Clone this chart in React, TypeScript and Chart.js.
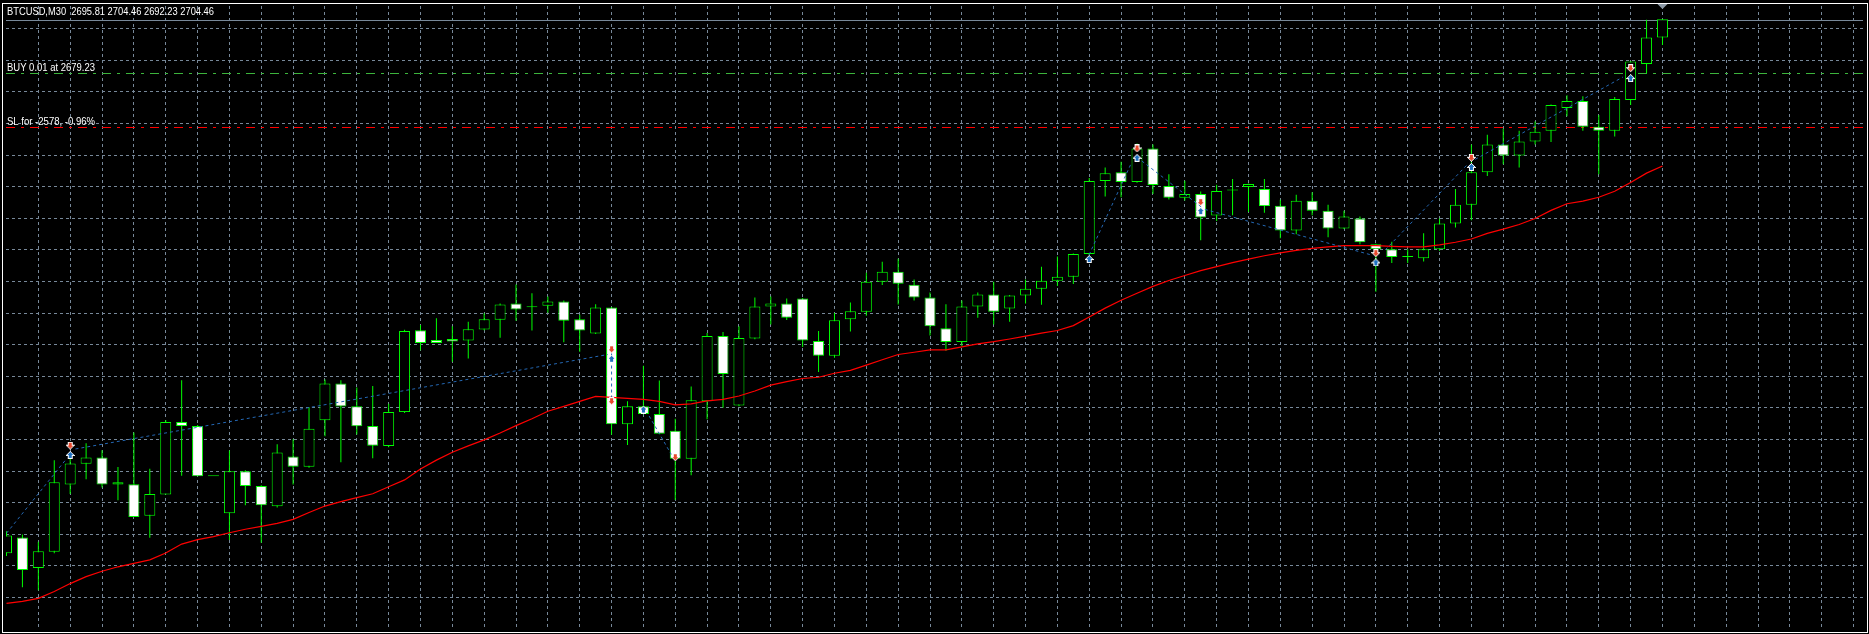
import React, { useEffect, useRef } from 'react';
import { Chart, registerables } from 'chart.js';

Chart.register(...registerables);

// ---- Data (BTCUSD, M30) ----
const OPEN = [
  2450.95, 2458.45, 2443.92, 2451.70, 2483.58, 2493.42, 2496.42, 2483.58, 2483.77, 2468.77,
  2478.89, 2513.30, 2511.42, 2487.52, 2469.98, 2489.86, 2482.83, 2473.27, 2496.89, 2492.02,
  2514.05, 2531.58, 2520.80, 2511.42, 2501.86, 2517.98, 2556.89, 2552.20, 2552.67, 2552.02,
  2557.17, 2561.86, 2569.55, 2567.81, 2568.42, 2570.48, 2562.05, 2555.30, 2567.67, 2512.17,
  2520.80, 2517.05, 2509.08, 2495.77, 2523.14, 2554.08, 2521.08, 2552.95, 2568.14, 2569.55,
  2571.89, 2551.73, 2544.70, 2562.05, 2565.61, 2579.86, 2584.55, 2578.45, 2572.36, 2557.83,
  2551.27, 2568.14, 2573.77, 2567.20, 2573.30, 2576.58, 2580.33, 2582.20, 2592.98, 2627.67,
  2631.89, 2627.20, 2643.14, 2625.33, 2619.70, 2621.58, 2611.27, 2623.13, 2624.86, 2623.92,
  2615.95, 2604.23, 2618.30, 2613.61, 2605.17, 2609.86, 2597.67, 2595.33, 2591.58, 2591.02,
  2595.33, 2607.52, 2616.42, 2631.89, 2645.02, 2639.86, 2646.42, 2651.58, 2662.36, 2665.64,
  2653.45, 2651.58, 2666.11, 2683.27, 2695.81,
];
const HIGH = [
  2461.40, 2459.86, 2456.39, 2495.16, 2495.77, 2503.13, 2499.85, 2491.88, 2508.28, 2491.08,
  2514.23, 2533.13, 2511.80, 2487.52, 2499.70, 2490.33, 2483.20, 2502.66, 2505.14, 2520.33,
  2533.45, 2533.13, 2529.70, 2530.31, 2521.88, 2557.03, 2559.38, 2562.52, 2558.77, 2560.92,
  2564.86, 2569.50, 2578.59, 2574.38, 2572.83, 2570.90, 2564.20, 2569.22, 2567.90, 2523.14,
  2540.02, 2532.98, 2514.84, 2530.17, 2555.50, 2555.95, 2558.77, 2572.36, 2572.83, 2571.89,
  2572.20, 2556.42, 2565.00, 2570.02, 2584.08, 2589.38, 2590.78, 2580.94, 2574.70, 2569.22,
  2570.95, 2574.70, 2579.86, 2573.60, 2580.94, 2587.03, 2591.86, 2593.30, 2629.08, 2634.05,
  2636.86, 2645.48, 2645.02, 2630.95, 2627.81, 2622.66, 2625.94, 2628.61, 2626.50, 2628.61,
  2618.77, 2621.11, 2622.33, 2616.42, 2613.61, 2610.80, 2597.90, 2598.89, 2595.33, 2602.83,
  2609.86, 2623.92, 2645.02, 2649.70, 2652.52, 2651.58, 2655.94, 2664.00, 2668.45, 2667.98,
  2659.08, 2667.52, 2684.60, 2704.20, 2704.46,
];
const LOW = [
  2449.69, 2434.83, 2433.42, 2450.95, 2479.08, 2486.11, 2482.17, 2476.08, 2468.11, 2458.27,
  2478.89, 2487.80, 2487.52, 2487.52, 2457.19, 2473.74, 2455.92, 2472.66, 2483.58, 2491.60,
  2506.55, 2494.22, 2507.34, 2496.09, 2501.25, 2517.50, 2547.33, 2550.80, 2541.89, 2543.44,
  2556.80, 2553.28, 2561.39, 2556.70, 2565.14, 2551.08, 2546.58, 2555.00, 2507.20, 2502.33,
  2516.80, 2507.40, 2476.27, 2487.98, 2514.52, 2520.00, 2520.70, 2552.60, 2559.52, 2561.72,
  2548.92, 2537.02, 2543.77, 2556.23, 2563.73, 2578.27, 2569.08, 2570.95, 2554.36, 2547.05,
  2549.20, 2562.80, 2559.52, 2560.92, 2569.55, 2568.89, 2577.80, 2578.83, 2592.60, 2620.31,
  2619.98, 2626.90, 2621.58, 2618.91, 2618.44, 2599.55, 2608.73, 2611.41, 2612.95, 2612.67,
  2600.48, 2602.36, 2611.41, 2600.95, 2604.90, 2597.67, 2575.17, 2588.77, 2588.77, 2589.52,
  2594.53, 2605.64, 2609.06, 2630.02, 2635.64, 2634.05, 2645.02, 2646.23, 2658.42, 2651.52,
  2630.95, 2648.77, 2663.77, 2678.91, 2692.23,
];
const CLOSE = [
  2459.39, 2442.98, 2451.89, 2484.70, 2493.61, 2496.42, 2483.58, 2484.70, 2468.11, 2479.08,
  2513.30, 2511.42, 2487.52, 2487.52, 2489.86, 2482.83, 2473.74, 2498.77, 2492.02, 2510.02,
  2531.58, 2520.61, 2511.23, 2502.05, 2517.98, 2556.42, 2550.80, 2550.80, 2551.55, 2557.36,
  2562.05, 2569.08, 2566.73, 2567.81, 2570.48, 2561.39, 2556.70, 2567.67, 2512.17, 2520.80,
  2517.05, 2507.67, 2495.77, 2523.61, 2554.08, 2536.08, 2553.14, 2568.14, 2569.55, 2562.80,
  2552.02, 2544.70, 2561.58, 2565.80, 2579.86, 2584.55, 2578.92, 2572.36, 2558.77, 2551.27,
  2568.14, 2573.77, 2565.61, 2573.30, 2576.58, 2580.33, 2582.20, 2592.98, 2627.67, 2631.42,
  2627.20, 2643.14, 2625.80, 2619.70, 2621.58, 2610.33, 2622.98, 2623.13, 2626.27, 2615.77,
  2604.23, 2618.30, 2613.61, 2605.17, 2610.80, 2598.61, 2595.33, 2591.58, 2591.58, 2595.33,
  2607.52, 2616.42, 2631.89, 2645.02, 2639.86, 2646.42, 2651.11, 2663.77, 2665.64, 2653.45,
  2651.58, 2666.58, 2684.39, 2695.81, 2704.46,
];
const MA = [
  2427.19, 2428.13, 2429.53, 2432.81, 2436.56, 2439.84, 2442.42, 2444.53, 2446.17, 2447.81,
  2451.09, 2455.31, 2457.42, 2458.83, 2460.70, 2462.34, 2463.75, 2465.16, 2467.03, 2470.31,
  2473.36, 2475.47, 2477.34, 2479.22, 2482.50, 2485.78, 2490.94, 2495.16, 2498.91, 2501.95,
  2504.77, 2508.05, 2511.56, 2514.84, 2518.36, 2520.70, 2523.05, 2525.39, 2524.92, 2524.45,
  2523.98, 2523.05, 2521.41, 2521.88, 2523.28, 2523.98, 2525.63, 2527.97, 2530.78, 2532.42,
  2533.92, 2534.53, 2536.41, 2537.81, 2540.30, 2542.83, 2545.31, 2546.39, 2547.52, 2547.52,
  2548.92, 2550.33, 2551.41, 2552.67, 2554.08, 2555.48, 2556.70, 2559.05, 2563.13, 2567.34,
  2571.09, 2574.38, 2577.66, 2580.47, 2582.81, 2585.16, 2587.03, 2588.91, 2590.64, 2592.19,
  2593.59, 2594.77, 2595.70, 2596.41, 2597.02, 2597.02, 2597.02, 2596.64, 2596.41, 2596.41,
  2597.34, 2598.61, 2600.16, 2602.83, 2604.84, 2607.05, 2609.86, 2613.75, 2616.89, 2618.11,
  2619.98, 2622.80, 2627.02, 2631.42, 2634.84,
];

const SELL_X = [4, 38, 38, 42, 71, 75, 86, 92, 102];
const SELL_Y = [2502.03, 2547.8, 2523.14, 2496.56, 2643.14, 2617.64, 2593.45, 2638.73, 2681.25];
const BUY_X = [4, 38, 40, 68, 71, 75, 86, 92, 102];
const BUY_Y = [2497.64, 2543.3, 2519.2, 2590.64, 2638.73, 2613.42, 2589.05, 2634.38, 2676.56];

const TRADE_X1 = [0, 4.33, 38, 40.36, 67.99, 71.3, 75.26, 86.59, 92.24];
const TRADE_Y1 = [2460.47, 2500.46, 2545.78, 2516.11, 2592.66, 2637.19, 2614.22, 2595.0, 2637.98];
const TRADE_X2 = [3.75, 37.76, 38, 41.75, 70.6, 75.05, 85.68, 91.72, 101.51];
const TRADE_Y2 = [2495.63, 2545.31, 2524.69, 2497.9, 2635.5, 2615.3, 2592.66, 2635.31, 2677.03];

const X_GRID = [2, 4, 6, 8, 10, 12, 14, 16, 18, 20, 22, 24, 26, 28, 30, 32, 34, 36, 38, 40, 42, 44, 46, 48, 50, 52, 54, 56, 58, 60, 62, 64, 66, 68, 70, 72, 74, 76, 78, 80, 82, 84, 86, 88, 90, 92, 94, 96, 98, 100, 102, 104, 106, 108, 110, 112, 114, 116];
const Y_GRID = [2430, 2445, 2460, 2475, 2490, 2505, 2520, 2535, 2550, 2565, 2580, 2595, 2610, 2625, 2640, 2655, 2670, 2685, 2700];

const SYMBOL_TEXT = 'BTCUSD,M30  2695.81 2704.46 2692.23 2704.46';
const BID_PRICE = 2704.46;
const BUY_PRICE = 2679.23;
const BUY_TEXT = 'BUY 0.01 at 2679.23';
const SL_PRICE = 2653.5;
const SL_TEXT = 'SL for -2578, -0.96%';

const X_MIN = -0.03125;
const X_MAX = 116.59375;
const Y_MIN = 2415.46875;
const Y_MAX = 2710.78125;

function makeArrow(fill: string, down: boolean): HTMLCanvasElement {
  const rows = [
    '..WWWWW..',
    '..WFFFW..',
    '..WFFFW..',
    'WWWFFFWWW',
    '.WFFFFFW.',
    '..WFFFW..',
    '...WFW...',
    '....W....',
  ];
  const r = down ? rows : rows.slice().reverse();
  const c = document.createElement('canvas');
  c.width = 9;
  c.height = 8;
  const g = c.getContext('2d')!;
  r.forEach((row, y) => {
    for (let x = 0; x < row.length; x++) {
      const ch = row[x];
      if (ch === '.') continue;
      g.fillStyle = ch === 'W' ? '#ffffff' : fill;
      g.fillRect(x, y, 1, 1);
    }
  });
  return c;
}

const FONT = '11px "Liberation Sans Narrow", "Liberation Sans", Arial, sans-serif';

const overlayPlugin = {
  id: 'mt4Overlay',
  beforeDatasetsDraw(chart: any) {
    const { ctx, chartArea: a, scales } = chart;
    const ys = scales.y;
    const hline = (price: number, color: string, dash: number[]) => {
      const y = Math.ceil(ys.getPixelForValue(price)) + 0.5;
      ctx.save();
      ctx.strokeStyle = color;
      ctx.lineWidth = 1;
      ctx.setLineDash(dash);
      ctx.beginPath();
      ctx.moveTo(a.left, y);
      ctx.lineTo(a.right, y);
      ctx.stroke();
      ctx.restore();
    };
    hline(BID_PRICE, '#778899', []);
    hline(BUY_PRICE, '#3cb43c', [9, 6, 3, 6]);
    hline(SL_PRICE, '#ff0000', [9, 6, 3, 6]);
  },
  afterDraw(chart: any) {
    const { ctx, scales } = chart;
    ctx.save();
    // frame
    ctx.strokeStyle = '#ffffff';
    ctx.lineWidth = 1;
    ctx.strokeRect(2.5, 3.5, 1865, 629);
    // chart shift marker
    const xl = scales.x.getPixelForValue(104);
    ctx.fillStyle = '#8c99a6';
    ctx.beginPath();
    ctx.moveTo(xl - 5, 4);
    ctx.lineTo(xl + 5, 4);
    ctx.lineTo(xl, 9);
    ctx.closePath();
    ctx.fill();
    // texts
    ctx.fillStyle = '#ffffff';
    ctx.font = FONT;
    ctx.textBaseline = 'alphabetic';
    ctx.textAlign = 'left';
    ctx.fillText(SYMBOL_TEXT, 7, 14.5, 207);
    const yb = Math.ceil(scales.y.getPixelForValue(BUY_PRICE));
    ctx.fillText(BUY_TEXT, 7, yb - 2, 88);
    const ysl = Math.ceil(scales.y.getPixelForValue(SL_PRICE));
    ctx.fillText(SL_TEXT, 7, ysl - 2, 88);
    ctx.restore();
  },
};

export default function App() {
  const ref = useRef<HTMLCanvasElement>(null);

  useEffect(() => {
    const canvas = ref.current;
    if (!canvas) return;
    const idx = OPEN.map((_, i) => i);
    const wicks = idx.map((i) => ({ x: i, y: [LOW[i], HIGH[i]] }));
    const bodies = idx.map((i) => ({ x: i, y: [OPEN[i], CLOSE[i]] }));
    const bodyColors = idx.map((i) => (CLOSE[i] < OPEN[i] ? '#ffffff' : '#000000'));
    const ma = MA.map((v, i) => ({ x: i, y: v }));
    const trade: any[] = [];
    TRADE_X1.forEach((x1, k) => {
      trade.push({ x: x1, y: TRADE_Y1[k] });
      trade.push({ x: TRADE_X2[k], y: TRADE_Y2[k] });
      trade.push({ x: TRADE_X2[k], y: null });
    });
    const sells = SELL_X.map((x, k) => ({ x, y: SELL_Y[k] }));
    const buys = BUY_X.map((x, k) => ({ x, y: BUY_Y[k] }));
    const sellImg = makeArrow('#e8492d', true);
    const buyImg = makeArrow('#1f70c1', false);

    const gridCommon = {
      display: true,
      color: '#778899',
      lineWidth: 1,
      drawTicks: false,
      tickLength: 0,
      offset: false,
    };

    const chart = new Chart(canvas, {
      type: 'bar',
      data: {
        datasets: [
          {
            type: 'line',
            label: 'Sell',
            data: sells,
            pointStyle: sellImg,
            pointRadius: 5,
            showLine: false,
            order: 0,
          } as any,
          {
            type: 'line',
            label: 'Buy',
            data: buys,
            pointStyle: buyImg,
            pointRadius: 5,
            showLine: false,
            order: 0,
          } as any,
          {
            type: 'line',
            label: 'Trades',
            data: trade,
            borderColor: '#2468b4',
            borderWidth: 1,
            borderDash: [3, 3],
            pointRadius: 0,
            spanGaps: false,
            order: 1,
          } as any,
          {
            type: 'line',
            label: 'MA',
            data: ma,
            borderColor: '#ff0000',
            borderWidth: 1.2,
            pointRadius: 0,
            tension: 0,
            order: 2,
          } as any,
          {
            type: 'bar',
            label: 'Body',
            data: bodies,
            backgroundColor: bodyColors,
            borderColor: '#00ff00',
            borderWidth: 1,
            borderSkipped: false,
            grouped: false,
            maxBarThickness: 11,
            minBarLength: 1,
            inflateAmount: 0,
            order: 3,
          } as any,
          {
            type: 'bar',
            label: 'Wick',
            data: wicks,
            backgroundColor: '#00ff00',
            borderWidth: 0,
            grouped: false,
            maxBarThickness: 1,
            inflateAmount: 0,
            order: 4,
          } as any,
        ],
      },
      options: {
        responsive: false,
        maintainAspectRatio: false,
        devicePixelRatio: 1,
        animation: false,
        events: [],
        layout: { padding: { left: 2, top: 3, right: 1, bottom: 1 } },
        plugins: {
          legend: { display: false },
          tooltip: { enabled: false },
          title: { display: false },
        },
        scales: {
          x: {
            type: 'linear',
            min: X_MIN,
            max: X_MAX,
            bounds: 'data',
            offset: false,
            ticks: { display: false },
            grid: gridCommon,
            border: { display: false, dash: [3, 3] },
            afterBuildTicks: (axis: any) => {
              axis.ticks = X_GRID.map((v) => ({ value: v }));
            },
          },
          y: {
            type: 'linear',
            min: Y_MIN,
            max: Y_MAX,
            bounds: 'data',
            beginAtZero: false,
            ticks: { display: false },
            grid: gridCommon,
            border: { display: false, dash: [3, 3] },
            afterBuildTicks: (axis: any) => {
              axis.ticks = Y_GRID.map((v) => ({ value: v }));
            },
          },
        },
      } as any,
      plugins: [overlayPlugin],
    });

    return () => {
      chart.destroy();
    };
  }, []);

  return (
    <div
      style={{
        position: 'fixed',
        left: 0,
        top: 0,
        width: 1869,
        height: 634,
        background: '#000000',
        overflow: 'hidden',
      }}
    >
      <canvas ref={ref} width={1869} height={634} style={{ display: 'block', width: 1869, height: 634 }} />
    </div>
  );
}
